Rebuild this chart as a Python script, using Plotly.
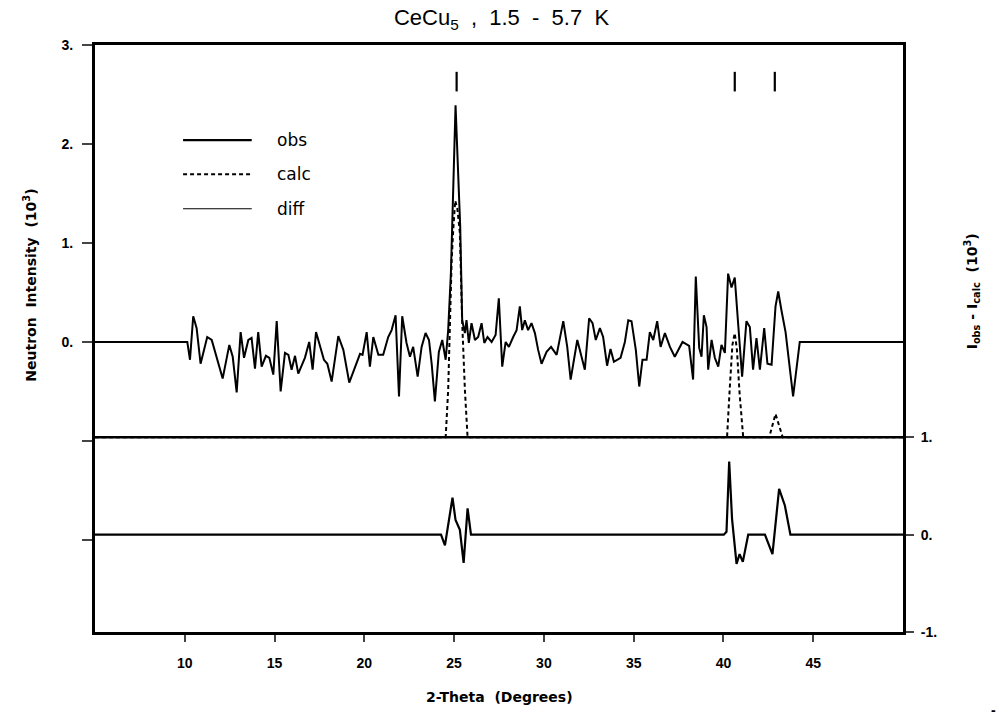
import plotly.graph_objects as go

# 2-theta (deg) and intensity (10^3)
obs_x = [5.00, 10.14, 10.29, 10.47, 10.66, 10.88, 11.25, 11.50, 12.11, 12.48, 12.67, 12.89,
         13.11, 13.30, 13.54, 13.72, 13.91, 14.09, 14.28, 14.52, 14.71, 14.93, 15.12, 15.34,
         15.58, 15.77, 15.95, 16.14, 16.32, 16.69, 16.93, 17.12, 17.31, 17.75, 17.94, 18.18,
         18.55, 18.83, 19.16, 19.76, 19.90, 20.13, 20.31, 20.50, 20.78, 21.05, 21.33, 21.52,
         21.74, 21.93, 22.11, 22.35, 22.54, 22.72, 22.97, 23.19, 23.41, 23.60, 23.75, 23.93,
         24.15, 24.34, 24.53, 24.67, 24.82, 24.97, 25.08, 25.19, 25.34, 25.45, 25.60, 25.69,
         25.82, 25.97, 26.16, 26.34, 26.53, 26.68, 26.86, 27.09, 27.31, 27.49, 27.68, 27.87,
         28.05, 28.29, 28.48, 28.66, 28.79, 28.94, 29.12, 29.31, 29.50, 29.68, 29.87, 30.15,
         30.40, 30.71, 31.08, 31.30, 31.49, 31.86, 32.04, 32.28, 32.52, 32.71, 32.89, 33.12,
         33.30, 33.52, 33.71, 33.90, 34.27, 34.51, 34.70, 34.88, 35.12, 35.31, 35.49, 35.72,
         35.90, 36.09, 36.31, 36.50, 36.74, 37.02, 37.29, 37.72, 38.09, 38.31, 38.46, 38.65,
         38.78, 38.91, 39.06, 39.15, 39.34, 39.52, 39.71, 39.89, 40.08, 40.26, 40.45, 40.63,
         40.82, 41.04, 41.28, 41.47, 41.65, 41.84, 42.03, 42.27, 42.45, 42.68, 42.90, 43.05,
         43.23, 43.46, 43.88, 44.25, 50.00]
obs_y = [0.00, 0.00, -0.18, 0.26, 0.14, -0.22, 0.05, 0.02, -0.37, -0.03, -0.15, -0.51,
         0.10, -0.16, 0.02, 0.04, -0.27, 0.10, -0.25, -0.14, -0.16, -0.33, 0.21, -0.50,
         -0.11, -0.13, -0.28, -0.14, -0.32, -0.16, 0.00, -0.28, 0.10, -0.18, -0.22, -0.40,
         0.06, -0.08, -0.41, -0.12, -0.13, 0.10, -0.25, 0.05, -0.13, -0.13, 0.05, 0.12,
         0.27, -0.55, 0.26, -0.01, -0.15, -0.05, -0.35, -0.05, 0.09, 0.02, -0.22, -0.60,
         -0.10, 0.02, -0.18, 0.12, 0.69, 1.84, 2.39, 1.87, 1.16, 0.22, 0.09, 0.22,
         -0.01, 0.19, 0.02, 0.05, 0.19, -0.01, 0.05, 0.00, 0.07, 0.44, -0.25, 0.00,
         -0.05, 0.05, 0.12, 0.36, 0.12, 0.22, 0.12, 0.19, 0.09, -0.08, -0.22, -0.10,
         -0.05, -0.13, 0.21, -0.05, -0.38, 0.02, -0.11, -0.28, 0.24, 0.19, 0.02, 0.14,
         0.05, -0.24, -0.07, -0.20, -0.16, 0.00, 0.22, 0.21, -0.08, -0.45, -0.18, -0.18,
         0.10, 0.02, 0.21, -0.05, 0.09, -0.05, -0.15, 0.00, -0.04, -0.38, 0.66, -0.06,
         -0.15, 0.27, 0.15, -0.28, 0.02, -0.16, -0.25, -0.03, -0.11, 0.69, 0.55, 0.65,
         0.18, -0.35, 0.21, 0.15, -0.28, 0.04, -0.28, 0.14, -0.22, -0.23, 0.36, 0.51,
         0.32, 0.10, -0.55, 0.00, 0.00]

calc_x = [5.00, 24.53, 24.67, 24.77, 24.86, 24.95, 25.06, 25.18, 25.32, 25.45, 25.60, 25.75,
          40.20, 40.35, 40.50, 40.63, 40.75, 40.90, 41.10,
          42.55, 42.75, 42.90, 43.05, 43.30, 50.00]
calc_y = [0.00, 0.00, 0.49, 1.18, 1.80, 2.13, 2.43, 2.35, 2.10, 1.18, 0.49, 0.00,
          0.00, 0.50, 0.95, 1.07, 0.90, 0.45, 0.00,
          0.00, 0.15, 0.24, 0.15, 0.00, 0.00]
calc_offset = 1.0  # calc is drawn on the right scale, shifted up by 1

diff_x = [5.00, 24.27, 24.49, 24.71, 24.91, 25.08, 25.32, 25.53, 25.75, 25.94,
          40.02, 40.17, 40.32, 40.48, 40.73, 40.90, 41.08, 41.38,
          42.31, 42.73, 43.10, 43.42, 43.73, 50.00]
diff_y = [0.00, 0.00, -0.11, 0.15, 0.38, 0.15, 0.05, -0.29, 0.27, 0.00,
          0.00, 0.03, 0.75, 0.16, -0.30, -0.20, -0.28, 0.00,
          0.00, -0.20, 0.47, 0.30, 0.00, 0.00]

refl_x = [25.14, 40.63, 42.86]
refl_level = 2.63

x_ticks = [10, 15, 20, 25, 30, 35, 40, 45]
y_ticks = [-2, -1, 0, 1, 2, 3]
y_labels = ["", "", "0.", "1.", "2.", "3."]
y2_ticks = [-1, 0, 1]
y2_labels = ["-1.", "0.", "1."]

FONT = "Liberation Sans, Arial, sans-serif"
WIDE = "DejaVu Sans, Verdana, sans-serif"

def bold(labels):
    return ["<b>%s</b>" % s if s else "" for s in labels]

fig = go.Figure()
fig.add_trace(go.Scatter(x=obs_x, y=obs_y, mode="lines",
                         line=dict(color="black", width=2)))
fig.add_trace(go.Scatter(x=calc_x, y=[v + calc_offset for v in calc_y], yaxis="y2",
                         mode="lines", line=dict(color="black", width=2, dash="4px,3px")))
fig.add_trace(go.Scatter(x=diff_x, y=diff_y, yaxis="y2", mode="lines",
                         line=dict(color="black", width=2.2)))
fig.add_trace(go.Scatter(x=refl_x, y=[refl_level] * len(refl_x), mode="markers",
                         marker=dict(symbol="line-ns", size=14,
                                     line=dict(color="black", width=2.2))))

# solid baseline under the calc curve
fig.add_shape(type="line", xref="paper", yref="y2", x0=0, x1=1,
              y0=calc_offset, y1=calc_offset, line=dict(color="black", width=2.5))

# hand-drawn legend
legend = [("obs", 0.838, 2.4, "solid"), ("calc", 0.780, 2, "4px,3px"), ("diff", 0.721, 1.2, "solid")]
for name, yy, w, dash in legend:
    fig.add_shape(type="line", xref="paper", yref="paper", x0=0.109, x1=0.194,
                  y0=yy, y1=yy, line=dict(color="black", width=w, dash=dash))
    fig.add_annotation(x=0.223, y=yy, xref="paper", yref="paper", text=name,
                       showarrow=False, xanchor="left", yanchor="middle",
                       font=dict(family=WIDE, size=17, color="black"))

fig.add_annotation(x=-0.094, y=0.59, xref="paper", yref="paper",
                   text="<b>Neutron  Intensity  (10<sup>3</sup>)</b>", textangle=-90,
                   showarrow=False, font=dict(family=WIDE, size=14, color="black"))
fig.add_annotation(x=1.1, y=0.58, xref="paper", yref="paper",
                   text="<b>I<sub>obs</sub> - I<sub>calc</sub>  (10<sup>3</sup>)</b>", textangle=-90,
                   showarrow=False, font=dict(family=WIDE, size=14, color="black"))
fig.add_annotation(x=0.5, y=-0.128, xref="paper", yref="paper",
                   text="<b>2-Theta  (Degrees)</b>", showarrow=False,
                   font=dict(family=WIDE, size=14, color="black"))
fig.add_annotation(x=1.118, y=-0.15, xref="paper", yref="paper", text="<b>-</b>",
                   showarrow=False, font=dict(size=14, color="black"))

fig.update_layout(
    width=1003, height=720,
    margin=dict(l=95, r=100, t=45, b=88),
    paper_bgcolor="white", plot_bgcolor="white",
    showlegend=False,
    font=dict(family=FONT, color="black", size=14),
    title=dict(text="CeCu<sub>5</sub>  ,  1.5  -  5.7  K", x=0.5, xanchor="center",
               y=0.976, yanchor="middle", font=dict(size=22)),
    xaxis=dict(range=[5, 50], tickvals=x_ticks, ticktext=bold([str(t) for t in x_ticks]),
               ticks="outside", ticklen=7, tickwidth=1.5,
               ticklabelstandoff=9, showline=True, linewidth=3, linecolor="black",
               mirror=True, showgrid=False, zeroline=False),
    yaxis=dict(range=[-2.93, 3], tickvals=y_ticks, ticktext=bold(y_labels), ticks="outside",
               ticklen=10, tickwidth=1.5, ticklabelstandoff=6, showline=True, linewidth=3,
               linecolor="black", mirror=True, showgrid=False, zeroline=False),
    yaxis2=dict(range=[-1, 5.03], overlaying="y", side="right", tickvals=y2_ticks,
                ticktext=bold(y2_labels), ticks="outside", ticklen=8, tickwidth=1.5,
                ticklabelstandoff=4, showline=True, linewidth=3, linecolor="black",
                showgrid=False, zeroline=False),
)

# the page's default body margin would shift the figure; drop it
fig.write_html("out.html", config={"displayModeBar": False},
               post_script="document.body.style.margin='0';")
